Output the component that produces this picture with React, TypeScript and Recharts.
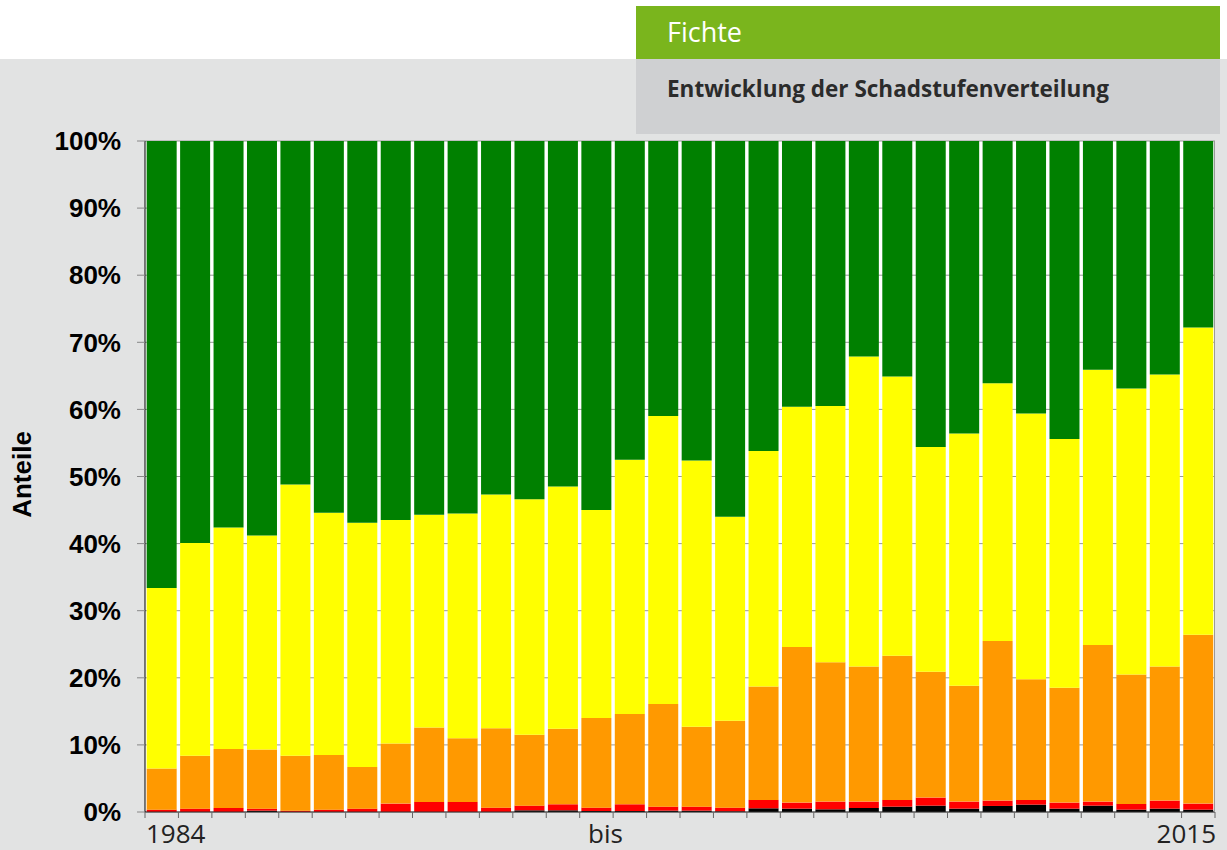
import React from "react";
import { BarChart, Bar, XAxis, YAxis, CartesianGrid, Label } from "recharts";

// Jahre der Erhebung
const years = [
  "1984", "1985", "1986", "1987", "1988", "1989", "1990", "1991",
  "1992", "1993", "1994", "1995", "1996", "1997", "1998", "1999",
  "2000", "2001", "2002", "2003", "2004", "2005", "2006", "2007",
  "2008", "2009", "2010", "2011", "2012", "2013", "2014", "2015",
];

// Anteile je Schadstufe in %
const stufe4 = [0, 0, 0, 0.2, 0, 0, 0, 0, 0, 0, 0, 0.25, 0.25, 0.15, 0.15, 0.2, 0.2, 0.1, 0.55, 0.5, 0.4, 0.6, 0.8, 0.95, 0.5, 0.9, 1.1, 0.5, 0.95, 0.35, 0.5, 0.35];
const stufe3 = [0.35, 0.5, 0.6, 0.3, 0.2, 0.35, 0.5, 1.25, 1.5, 1.5, 0.65, 0.7, 0.9, 0.5, 1.0, 0.6, 0.6, 0.55, 1.25, 0.9, 1.15, 0.95, 1.0, 1.2, 1.05, 0.8, 0.7, 0.9, 0.6, 0.85, 1.2, 0.9];
const stufe2 = [6.15, 7.9, 8.8, 8.8, 8.2, 8.15, 6.2, 8.95, 11.1, 9.5, 11.85, 10.55, 11.25, 13.35, 13.45, 15.3, 11.9, 12.95, 16.9, 23.2, 20.75, 20.15, 21.5, 18.75, 17.25, 23.8, 18.0, 17.1, 23.35, 19.3, 20.0, 25.15];
const stufe1 = [26.9, 31.7, 33.0, 31.9, 40.4, 36.1, 36.4, 33.3, 31.7, 33.5, 34.8, 35.1, 36.1, 31.0, 37.9, 42.9, 39.7, 30.4, 35.1, 35.8, 38.2, 46.2, 41.6, 33.5, 37.6, 38.4, 39.6, 37.1, 41.0, 42.6, 43.5, 45.8];
const stufe0 = [66.6, 59.9, 57.6, 58.8, 51.2, 55.4, 56.9, 56.5, 55.7, 55.5, 52.7, 53.4, 51.5, 55.0, 47.5, 41.0, 47.6, 56.0, 46.2, 39.6, 39.5, 32.1, 35.1, 45.6, 43.6, 36.1, 40.6, 44.4, 34.1, 36.9, 34.8, 27.8];

const yTicks = [0, 10, 20, 30, 40, 50, 60, 70, 80, 90, 100];

// Beschriftung unter der x-Achse
const labelYears = ["1984", "1997", "2015"];
const labelTexts = ["1984", "bis", "2015"];

const data = years.map((year, i) => ({
  year,
  s4: stufe4[i],
  s3: stufe3[i],
  s2: stufe2[i],
  s1: stufe1[i],
  s0: stufe0[i],
}));

const W = 1227;
const H = 850;
const PLOT_L = 145;
const PLOT_R = 1215;
const BAND = (PLOT_R - PLOT_L) / years.length;
const AXIS_FONT = "'Liberation Sans', Arial, sans-serif";

const XTick = (props: any) => {
  const { x, y, payload, index } = props;
  const half = BAND / 2;
  const top = y - 6;
  const k = labelYears.indexOf(payload.value);
  let text = null;
  if (k >= 0) {
    let anchor: "start" | "middle" | "end" = "middle";
    let tx = x + 9;
    if (k === 0) { anchor = "start"; tx = x - half + 1; }
    if (k === labelYears.length - 1) { anchor = "end"; tx = x + half + 1; }
    text = (
      <text x={tx} y={y + 25} textAnchor={anchor} fontSize={26} fill="#222"
        fontFamily="'Open Sans', sans-serif">
        {labelTexts[k]}
      </text>
    );
  }
  return (
    <g>
      <line x1={x - half} x2={x - half} y1={top} y2={top + 6} stroke="#666" />
      {index === years.length - 1 && (
        <line x1={x + half} x2={x + half} y1={top} y2={top + 6} stroke="#666" />
      )}
      {text}
    </g>
  );
};

export default function App() {
  return (
    <div style={{ position: "absolute", left: 0, top: 0, width: W, height: H, background: "#fff", overflow: "hidden" }}>
      <div style={{ position: "absolute", left: 0, top: 59, width: W, height: H - 59, background: "#e2e3e3" }} />
      <div style={{ position: "absolute", left: 0, top: 0 }}>
        <BarChart width={W} height={H} data={data} barCategoryGap="5%"
          margin={{ top: 141, right: W - PLOT_R, bottom: 0, left: 0 }}>
          <CartesianGrid vertical={false} stroke="#999" fill="#fff" />
          <XAxis dataKey="year" interval={0} height={38} tickSize={6} tickMargin={0}
            tickLine={false} axisLine={{ stroke: "#333" }} tick={<XTick />} />
          <YAxis width={PLOT_L} domain={[0, 100]} ticks={yTicks} allowDataOverflow
            tickFormatter={(v: number) => `${v}%`} tickSize={8} tickMargin={16}
            tickLine={{ stroke: "#888" }} axisLine={{ stroke: "#000" }}
            tick={{ fontSize: 26, fontWeight: 700, fill: "#000", fontFamily: AXIS_FONT }}>
            <Label content={(p: any) => {
              const vb = p.viewBox || { y: 141, height: 671 };
              const cy = vb.y + vb.height / 2 - 2;
              return (
                <text x={22} y={cy} transform={`rotate(-90, 22, ${cy})`} textAnchor="middle"
                  dominantBaseline="central" fontSize={26} fontWeight={700} fill="#000"
                  fontFamily={AXIS_FONT}>
                  Anteile
                </text>
              );
            }} />
          </YAxis>
          <Bar dataKey="s4" stackId="a" fill="#000000" isAnimationActive={false} />
          <Bar dataKey="s3" stackId="a" fill="#ff0000" isAnimationActive={false} />
          <Bar dataKey="s2" stackId="a" fill="#ff9900" isAnimationActive={false} />
          <Bar dataKey="s1" stackId="a" fill="#ffff00" isAnimationActive={false} />
          <Bar dataKey="s0" stackId="a" fill="#008000" isAnimationActive={false} />
        </BarChart>
      </div>
      <div style={{ position: "absolute", left: PLOT_R - 1, top: 141, width: 1, height: 671, background: "#999" }} />
      <div style={{ position: "absolute", left: 636, top: 6, width: 584, height: 53, background: "#7ab51d",
        fontFamily: "'Open Sans', sans-serif", color: "#fff", fontSize: 27, lineHeight: "52px", paddingLeft: 31, boxSizing: "border-box" }}>
        Fichte
      </div>
      <div style={{ position: "absolute", left: 636, top: 59, width: 584, height: 75, background: "#cfd0d2",
        fontFamily: "'Open Sans', sans-serif", color: "#2b2b2b", fontSize: 22.5, fontWeight: 700, paddingLeft: 31, paddingTop: 14, boxSizing: "border-box" }}>
        Entwicklung der Schadstufenverteilung
      </div>
    </div>
  );
}
